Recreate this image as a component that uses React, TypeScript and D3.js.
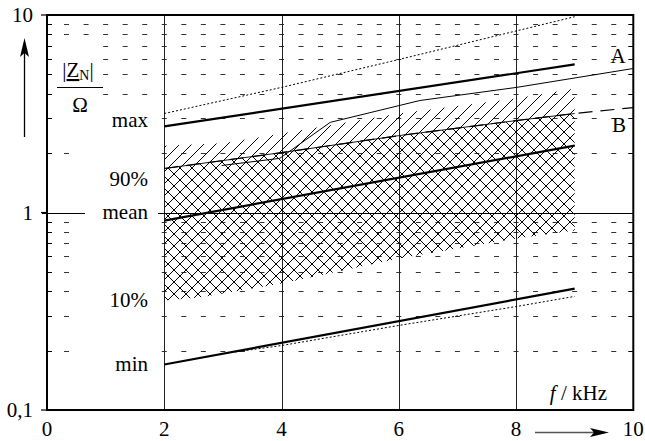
import React from "react";
import * as d3 from "d3";

const W = 645;
const H = 441;

const xTickValues = [0, 2, 4, 6, 8, 10];
const xTickLabels = ["0", "2", "4", "6", "8", "10"];
const yTickValues = [0.1, 1, 10];
const yTickLabels = ["0,1", "1", "10"];
const minorMultipliers = [2, 3, 4, 5, 6, 7, 8, 9];

// statistics lines (f in kHz, |Z_N| in ohm)
const thickX = [2, 9];
const maxVals = [2.73, 5.62];
const meanVals = [0.91, 2.18];
const minVals = [0.17, 0.412];

const upperDotX = [2, 4, 6, 8, 9];
const upperDotVals = [3.17, 4.3, 5.95, 8.3, 9.8];

const lowerDotX = [3, 4, 6, 8, 9];
const lowerDotVals = [0.193, 0.212, 0.268, 0.334, 0.376];

// curve B (dashed) coincides with 90 % boundary
const bX = [2, 4, 6, 8, 9, 10];
const bVals = [1.67, 2.01, 2.45, 2.92, 3.17, 3.4];

// 10 % boundary
const p10X = [2, 2.6, 4, 6, 8, 9];
const p10Vals = [0.358, 0.371, 0.437, 0.585, 0.738, 0.811];

// top of single hatched band
const hatchTopX = [2, 3, 4, 6, 8, 9];
const hatchTopVals = [2.18, 2.24, 2.51, 3.17, 3.78, 4.25];

// curve A (thin)
const aX = [2.98, 3.97, 4.83, 6.36, 8.01, 10];
const aVals = [1.73, 1.88, 2.86, 3.69, 4.3, 5.36];

const FONT = "Liberation Serif";

export default function App() {
  const L = 47, R = 633.3, T = 15, B = 410;
  const x = d3.scaleLinear().domain([0, 10]).range([L, R]);
  const y = d3.scaleLog().domain([0.1, 10]).range([B, T]);

  const line = d3.line<[number, number]>().x((d) => x(d[0])).y((d) => y(d[1]));
  const pts = (xs: number[], vs: number[]) => xs.map((v, i) => [v, vs[i]] as [number, number]);

  const poly = (upX: number[], upV: number[], loX: number[], loV: number[]) => {
    const p = [...pts(upX, upV), ...pts(loX, loV).reverse()];
    return line(p) + "Z";
  };

  const dashes: any[] = [];
  const step = (R - L) / 30;
  [0.1, 1].forEach((dec) => {
    minorMultipliers.forEach((m) => {
      const v = dec * m;
      const yy = Math.round(y(v)) + 0.5;
      for (let k = 1; k < 30; k++) {
        if (k < 6) {
          let ok = false;
          if (dec === 1 && (m === 9 || m === 8)) ok = true;
          else if (dec === 1 && m >= 4 && m <= 7) ok = k >= 3;
          else if (dec === 1 && m === 3) ok = false;
          else ok = k === 1;
          if (!ok) continue;
        }
        const xx = L + k * step;
        dashes.push(
          <line key={`d${dec}-${m}-${k}`} x1={xx - 2.5} x2={xx + 2.5} y1={yy} y2={yy} stroke="#333" strokeWidth={1} />
        );
      }
      dashes.push(<line key={`tl${dec}-${m}`} x1={L} x2={L + 5} y1={yy} y2={yy} stroke="#000" strokeWidth={1} />);
      dashes.push(<line key={`tr${dec}-${m}`} x1={R - 5} x2={R} y1={yy} y2={yy} stroke="#000" strokeWidth={1} />);
    });
  });

  const tp = { fontFamily: FONT, fontSize: 21, fill: "#000" };

  return (
    <svg width={W} height={H} style={{ position: "absolute", left: 0, top: 0, background: "#fff" }}>
      <defs>
        <pattern id="hatchR" width={12} height={12} patternUnits="userSpaceOnUse">
          <path d="M-3,3 l6,-6 M0,12 l12,-12 M9,15 l6,-6" stroke="#000" strokeWidth={1} />
        </pattern>
        <pattern id="hatchL" width={12} height={12} patternUnits="userSpaceOnUse">
          <path d="M-3,9 l6,6 M0,0 l12,12 M9,-3 l6,6" stroke="#000" strokeWidth={1} />
        </pattern>
      </defs>
      <rect x={0} y={0} width={W} height={H} fill="#fff" />

      {dashes}

      {xTickValues.slice(1, -1).map((v) => (
        <line key={`vg${v}`} x1={Math.round(x(v)) + 0.5} x2={Math.round(x(v)) + 0.5} y1={T} y2={B} stroke="#222" strokeWidth={1} />
      ))}

      <line x1={L - 5} x2={85} y1={Math.round(y(1)) + 0.5} y2={Math.round(y(1)) + 0.5} stroke="#000" strokeWidth={1} />
      <line x1={158} x2={R} y1={Math.round(y(1)) + 0.5} y2={Math.round(y(1)) + 0.5} stroke="#000" strokeWidth={1} />

      <path d={poly(hatchTopX, hatchTopVals, p10X, p10Vals)} fill="url(#hatchR)" stroke="none" />
      <path d={poly(bX.slice(0, 5), bVals.slice(0, 5), p10X, p10Vals)} fill="url(#hatchL)" stroke="none" />
      <path d={line(pts(bX.slice(0, 5), bVals.slice(0, 5))) || ""} fill="none" stroke="#000" strokeWidth={0.9} />

      <path d={line(pts(bX, bVals)) || ""} fill="none" stroke="#000" strokeWidth={1.2} strokeDasharray="14 8" />

      <path d={line(pts(aX, aVals)) || ""} fill="none" stroke="#000" strokeWidth={1} />

      <path d={line(pts(upperDotX, upperDotVals)) || ""} fill="none" stroke="#000" strokeWidth={1} strokeDasharray="2 2" />
      <path d={line(pts(lowerDotX, lowerDotVals)) || ""} fill="none" stroke="#000" strokeWidth={1} strokeDasharray="2 2" />

      {[maxVals, meanVals, minVals].map((vals, i) => (
        <path key={`th${i}`} d={line(pts(thickX, vals)) || ""} fill="none" stroke="#000" strokeWidth={2.2} />
      ))}

      <rect x={L} y={T} width={R - L} height={B - T} fill="none" stroke="#000" strokeWidth={2} />
      {yTickValues.map((v) => (
        <line key={`yt${v}`} x1={L - 6} x2={L} y1={y(v)} y2={y(v)} stroke="#000" strokeWidth={1.2} />
      ))}

      {xTickValues.map((v, i) => (
        <text key={`xl${v}`} x={x(v)} y={436} textAnchor="middle" {...tp}>
          {xTickLabels[i]}
        </text>
      ))}
      {yTickValues.map((v, i) => (
        <text key={`yl${v}`} x={33} y={y(v) + 7} textAnchor="end" {...tp}>
          {yTickLabels[i]}
        </text>
      ))}

      <text x={148} y={127} textAnchor="end" {...tp}>max</text>
      <text x={148} y={186} textAnchor="end" {...tp}>90%</text>
      <text x={148} y={219} textAnchor="end" {...tp}>mean</text>
      <text x={148} y={307} textAnchor="end" {...tp}>10%</text>
      <text x={148} y={371} textAnchor="end" {...tp}>min</text>
      <text x={618} y={63} textAnchor="middle" {...tp}>A</text>
      <text x={619} y={132} textAnchor="middle" {...tp}>B</text>

      <text x={78} y={77} textAnchor="middle" {...tp}>
        |<tspan textDecoration="underline">Z</tspan>
        <tspan fontSize={14} dy={3}>N</tspan>
        <tspan dy={-3}>|</tspan>
      </text>
      <line x1={57} x2={103} y1={87.5} y2={87.5} stroke="#000" strokeWidth={1} />
      <text x={80} y={112} textAnchor="middle" {...tp}>Ω</text>

      <text x={607} y={400} textAnchor="end" {...tp}>
        <tspan fontStyle="italic">f</tspan> / kHz
      </text>

      <line x1={24.5} x2={24.5} y1={137} y2={50} stroke="#000" strokeWidth={1.3} />
      <path d="M24.5,38 L29,57 L24.5,53 L20,57 Z" fill="#000" />
      <line x1={535} x2={598} y1={432.5} y2={432.5} stroke="#555" strokeWidth={1.3} />
      <path d="M609,432.5 L590,428 L594,432.5 L590,437 Z" fill="#000" />
    </svg>
  );
}
